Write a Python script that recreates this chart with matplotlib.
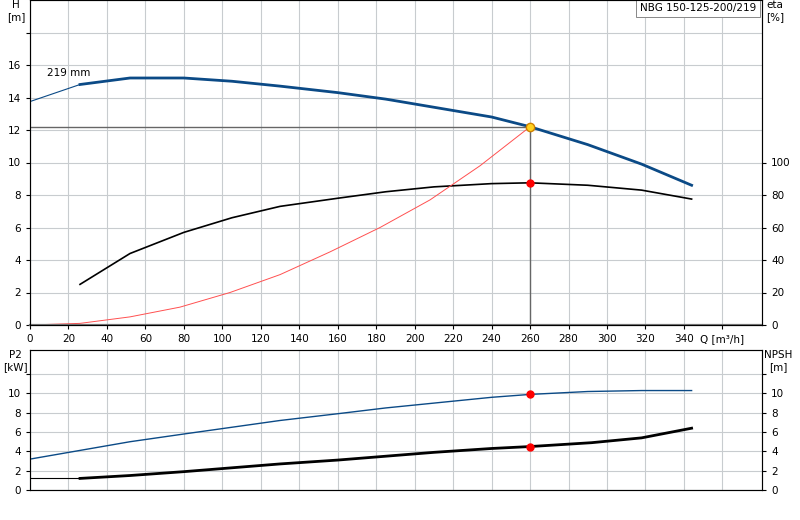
import matplotlib
matplotlib.use("Agg")
import matplotlib.pyplot as plt

# pump curve H [m]
q_h = [26, 52, 80, 105, 130, 160, 185, 210, 240, 260, 290, 318, 344]
h = [14.8, 15.2, 15.2, 15.0, 14.7, 14.3, 13.9, 13.4, 12.8, 12.2, 11.1, 9.9, 8.6]
q_h_ext = [0, 26]
h_ext = [13.75, 14.8]
# efficiency [%]
eta = [25, 44, 57, 66, 73, 78, 82, 85, 87, 87.5, 86, 83, 77.5]
# system curve
q_sys = [0, 26, 52, 78, 104, 130, 156, 182, 208, 234, 260]
h_sys = [0, 0.1, 0.5, 1.1, 2.0, 3.1, 4.5, 6.0, 7.7, 9.8, 12.2]
# duty point
q_op, h_op, eta_op = 260, 12.2, 87.5
# P2 [kW]
q_p = [0, 26, 52, 80, 105, 130, 160, 185, 210, 240, 260, 290, 318, 344]
p2 = [3.2, 4.1, 5.0, 5.8, 6.5, 7.2, 7.9, 8.5, 9.0, 9.6, 9.9, 10.2, 10.3, 10.3]
# NPSH [m]
q_n = [26, 52, 80, 105, 130, 160, 185, 210, 240, 260, 292, 318, 344]
npsh = [1.2, 1.5, 1.9, 2.3, 2.7, 3.1, 3.5, 3.9, 4.3, 4.5, 4.9, 5.4, 6.4]
p2_op, npsh_op = 9.9, 4.5

blue = "#0b4a86"
grid_c = "#c8cccf"
fs = 7.5

fig = plt.figure(figsize=(8, 5.2), dpi=100)
ax = fig.add_axes([30/800, 1 - 325/520, 732/800, 325/520])
axb = fig.add_axes([30/800, 1 - 490/520, 732/800, 140/520])

xt = list(range(0, 361, 20))
for a in (ax, axb):
    a.set_xlim(0, 380.6)
    a.set_xticks(xt)
    a.grid(True, color=grid_c, lw=0.8)
    a.tick_params(labelsize=fs, length=3)
    for s in a.spines.values():
        s.set_color("#555555")
ax.spines["bottom"].set_linewidth(1.6)
ax.spines["bottom"].set_color("#777777")
ax.set_xticklabels([str(v) for v in xt[:-1]] + ["Q [m³/h]"])
axb.set_xticklabels([])
axb.tick_params(axis="x", length=0)

ax.set_ylim(0, 20)
ax.set_yticks(range(0, 19, 2))
ax.set_yticklabels([str(v) for v in range(0, 17, 2)] + [""])
ax.plot(q_h_ext, h_ext, color=blue, lw=0.8)
ax.plot(q_h, h, color=blue, lw=2)
ax.plot(q_h, [e / 10 for e in eta], color="black", lw=1.2)
ax.plot(q_sys, h_sys, color="#ff5050", lw=0.7)
ax.plot([0, q_op], [h_op, h_op], color="#666666", lw=1)
ax.plot([q_op, q_op], [0, h_op], color="#666666", lw=1)
ax.plot(q_op, h_op, "o", ms=6, mfc="#ffd21f", mec="#d08000", zorder=5)
ax.plot(q_op, eta_op / 10, "o", ms=5, color="red", zorder=5)
ax.text(9, 15.3, "219 mm", fontsize=fs)
fig.text(16/800, 1.0, "H\n[m]", ha="center", va="top", fontsize=fs)

axr = ax.twinx()
axr.set_ylim(0, 200)
axr.set_yticks(range(0, 101, 20))
axr.tick_params(labelsize=fs, length=3)
fig.text(775/800, 1.0, "eta\n[%]", ha="center", va="top", fontsize=fs)

ax.text(0.992, 0.99, "NBG 150-125-200/219", transform=ax.transAxes, ha="right",
        va="top", fontsize=fs, bbox=dict(fc="white", ec="#888888", lw=0.7, pad=2.5))

axb.set_ylim(0, 14.5)
axb.set_yticks(range(0, 13, 2))
axb.set_yticklabels([str(v) for v in range(0, 11, 2)] + [""])
axb.plot(q_p, p2, color=blue, lw=1)
axb.plot([0, 26], [npsh[0], npsh[0]], color="black", lw=0.8)
axb.plot(q_n, npsh, color="black", lw=2)
axb.plot(q_op, p2_op, "o", ms=5, color="red", zorder=5)
axb.plot(q_op, npsh_op, "o", ms=5, color="red", zorder=5)
fig.text(15/800, 1 - 350/520, "P2\n[kW]", ha="center", va="top", fontsize=fs)

axbr = axb.twinx()
axbr.set_ylim(0, 14.5)
axbr.set_yticks(range(0, 13, 2))
axbr.set_yticklabels([str(v) for v in range(0, 11, 2)] + [""])
axbr.tick_params(labelsize=fs, length=3)
fig.text(778/800, 1 - 350/520, "NPSH\n[m]", ha="center", va="top", fontsize=fs)

fig.savefig("out.png", dpi=100)
